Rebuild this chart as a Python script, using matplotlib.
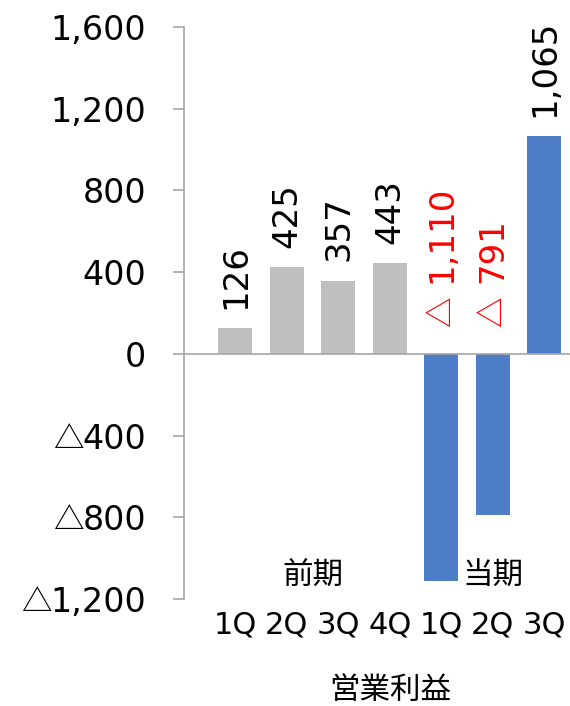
import matplotlib
matplotlib.use("Agg")
import matplotlib.pyplot as plt
from matplotlib.transforms import blended_transform_factory, IdentityTransform

plt.rcParams['font.family'] = ['DejaVu Sans', 'Noto Sans CJK JP']
CJK = ["Noto Sans CJK JP"]

quarters = ["1Q", "2Q", "3Q", "4Q", "1Q", "2Q", "3Q"]
prev_values = [126, 425, 357, 443]
curr_values = [-1110, -791, 1065]
group_labels = ["前期", "当期"]
chart_title = "営業利益"
y_ticks = [1600, 1200, 800, 400, 0, -400, -800, -1200]

values = prev_values + curr_values
colors = ["#BFBFBF"] * len(prev_values) + ["#4E7EC8"] * len(curr_values)
xs = list(range(len(values)))

fig = plt.figure(figsize=(5.70, 7.06), dpi=100)
ax = fig.add_axes([0.3228, 0.1516, 0.6772, 0.8102])

ax.bar(xs, values, width=0.66, color=colors, zorder=2)
ax.set_xlim(-1.0, 6.5)
ax.set_ylim(-1200, 1600)

axis_grey = "#A6A6A6"
ax.axhline(0, color=axis_grey, lw=1.2, zorder=3)
for side in ("top", "right", "bottom"):
    ax.spines[side].set_visible(False)
ax.spines["left"].set_color(axis_grey)
ax.spines["left"].set_linewidth(1.2)

# y tick labels: magnitude only, negatives get a leading △ drawn separately
ax.set_yticks(y_ticks)
ax.set_yticklabels([f"{abs(v):,}" for v in y_ticks])
ax.tick_params(axis="y", length=8, width=1.2, color=axis_grey, pad=19,
               labelsize=24, labelcolor="#000000")
ax.set_xticks([])

# value labels, written upward above the bar (or above zero for losses)
for x, v in zip(xs, values):
    if v >= 0:
        ax.annotate(f"{v:,}", xy=(x, v), xytext=(0, 14),
                    textcoords="offset points", rotation=90, ha="center",
                    va="bottom", fontsize=24.5, color="black")
    else:
        ax.annotate("△", xy=(x, 0), xytext=(0, 19), textcoords="offset points",
                    rotation=90, ha="center", va="bottom", fontsize=22,
                    color="#FF0000", family=CJK)
        ax.annotate(f"{abs(v):,}", xy=(x, 0), xytext=(0, 51),
                    textcoords="offset points", rotation=90, ha="center",
                    va="bottom", fontsize=24.5, color="#FF0000")

# category labels under the plot area
trans = blended_transform_factory(ax.transData, ax.transAxes)
for x, q in zip(xs, quarters):
    ax.text(x, -0.045, q, transform=trans, ha="center", va="center", fontsize=22)

# period group labels inside the plot area
prev_center = (len(prev_values) - 1) / 2
curr_center = len(prev_values) + (len(curr_values) - 1) / 2
ax.text(prev_center, 0.039, group_labels[0], transform=trans, ha="center",
        va="center", fontsize=22, family=CJK)
ax.text(curr_center, 0.039, group_labels[1], transform=trans, ha="center",
        va="center", fontsize=22, family=CJK)

ax.text(3, -0.16, chart_title, transform=trans, ha="center", va="center",
        fontsize=22, family=CJK)

# leading △ for the negative y tick labels
fig.canvas.draw()
renderer = fig.canvas.get_renderer()
for lbl, v in zip(ax.get_yticklabels(), y_ticks):
    if v < 0:
        bb = lbl.get_window_extent(renderer)
        y_pix = ax.transData.transform((0, v))[1]
        fig.text(bb.x0 + 1, y_pix, "△", transform=IdentityTransform(),
                 ha="right", va="center_baseline", fontsize=22, family=CJK)

fig.savefig("out.png", dpi=100)
